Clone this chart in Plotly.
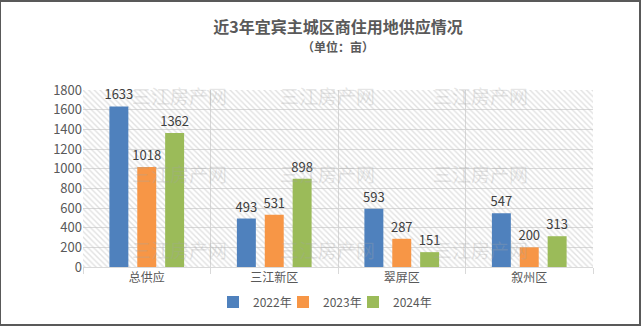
import plotly.graph_objects as go

# Land supply of commercial/residential plots in Yibin's main urban districts (unit: mu)
categories = ["总供应", "三江新区", "翠屏区", "叙州区"]
years = ["2022年", "2023年", "2024年"]
values_2022 = [1633, 493, 593, 547]
values_2023 = [1018, 531, 287, 200]
values_2024 = [1362, 898, 151, 313]
y_ticks = [0, 200, 400, 600, 800, 1000, 1200, 1400, 1600, 1800]

colors = ["#4F81BD", "#F79646", "#9BBB59"]
series = [values_2022, values_2023, values_2024]

FONT = "Noto Sans CJK SC, Microsoft YaHei, sans-serif"
n = len(categories)
positions = list(range(n))
y_max = y_ticks[-1]

fig = go.Figure()

# Diagonal hatch filling the plot area background (main axes, drawn first)
fig.add_trace(go.Scatter(
    x=[-0.5, n - 0.5, n - 0.5, -0.5, -0.5],
    y=[0, 0, y_max, y_max, 0],
    mode="lines", line=dict(width=0), fill="toself",
    fillcolor="rgba(0,0,0,0)",
    fillpattern=dict(shape="\\", fgcolor="#c4c4c4", bgcolor="rgba(0,0,0,0)",
                     size=4, solidity=0.35),
    hoverinfo="skip", showlegend=False,
))

# Bars live on an overlaying pair of axes so they sit above the hatch;
# each series gets its own small legend box so the entries sit close together
legend_names = ["legend", "legend2", "legend3"]
for name, vals, col, lg in zip(years, series, colors, legend_names):
    fig.add_trace(go.Bar(
        name=name, x=positions, y=vals, xaxis="x2", yaxis="y2",
        marker=dict(color=col, line=dict(width=0)),
        text=vals, texttemplate="%{text}", textposition="outside",
        constraintext="none",
        textfont=dict(family=FONT, size=13, color="#404040"),
        cliponaxis=False, legend=lg,
    ))

# Faint site watermarks across the plot area
for wy in [0.97, 0.53, 0.1]:
    for wx in [0.19, 0.48, 0.78]:
        fig.add_annotation(
            text="三江房产网", xref="paper", yref="paper", x=wx, y=wy,
            xanchor="center", yanchor="middle",
            showarrow=False, font=dict(family=FONT, size=19, color="rgba(165,165,165,0.28)"),
        )

fig.add_annotation(
    text="<b>（单位：亩）</b>", xref="paper", yref="paper", x=0.5, y=1.0,
    yanchor="middle", yshift=44, showarrow=False,
    font=dict(family=FONT, size=12, color="#595959"),
)

# Outer frame
fig.add_shape(type="rect", xref="paper", yref="paper", x0=-83 / 510, x1=1 + 47 / 510,
              y0=-58 / 177, y1=1 + 89 / 177, line=dict(color="#595959", width=2))

legend_style = dict(orientation="h", xref="container", xanchor="left",
                    yref="container", y=1 - 302 / 326, yanchor="middle",
                    font=dict(family=FONT, size=12, color="#595959"),
                    itemwidth=30, bgcolor="rgba(0,0,0,0)")

fig.update_layout(
    width=641, height=326,
    margin=dict(l=83, r=48, t=90, b=59, autoexpand=False),
    paper_bgcolor="white", plot_bgcolor="white",
    barmode="group", bargap=0.344, bargroupgap=0.32,
    title=dict(text="<b>近3年宜宾主城区商住用地供应情况</b>", x=0.5, xref="paper",
               y=1 - 27 / 326, yref="container", xanchor="center", yanchor="middle",
               font=dict(family=FONT, size=16, color="#595959")),
    legend=dict(x=213 / 641, **legend_style),
    legend2=dict(x=283 / 641, **legend_style),
    legend3=dict(x=353 / 641, **legend_style),
    font=dict(family=FONT, color="#595959"),
    xaxis2=dict(overlaying="x", range=[-0.5, n - 0.5], visible=False),
    yaxis2=dict(overlaying="y", range=[0, y_max], visible=False),
)

fig.layout.xaxis.update(
    range=[-0.5, n - 0.5], tickvals=positions, ticktext=categories,
    showgrid=False, ticks="", zeroline=False,
    showline=True, linecolor="#d9d9d9", linewidth=1,
    tickfont=dict(family=FONT, size=12, color="#595959"),
    minor=dict(tickvals=[p - 0.5 for p in positions] + [n - 0.5], showgrid=True,
               gridcolor="#d9d9d9", gridwidth=1, ticks="outside", ticklen=6,
               tickcolor="#d9d9d9"),
)
fig.layout.yaxis.update(
    range=[0, y_max], tickvals=y_ticks, showgrid=True, gridcolor="#d9d9d9",
    gridwidth=1, zeroline=False, showline=False, ticks="",
    tickfont=dict(family=FONT, size=13, color="#595959"),
)

fig.write_html("out.html")
